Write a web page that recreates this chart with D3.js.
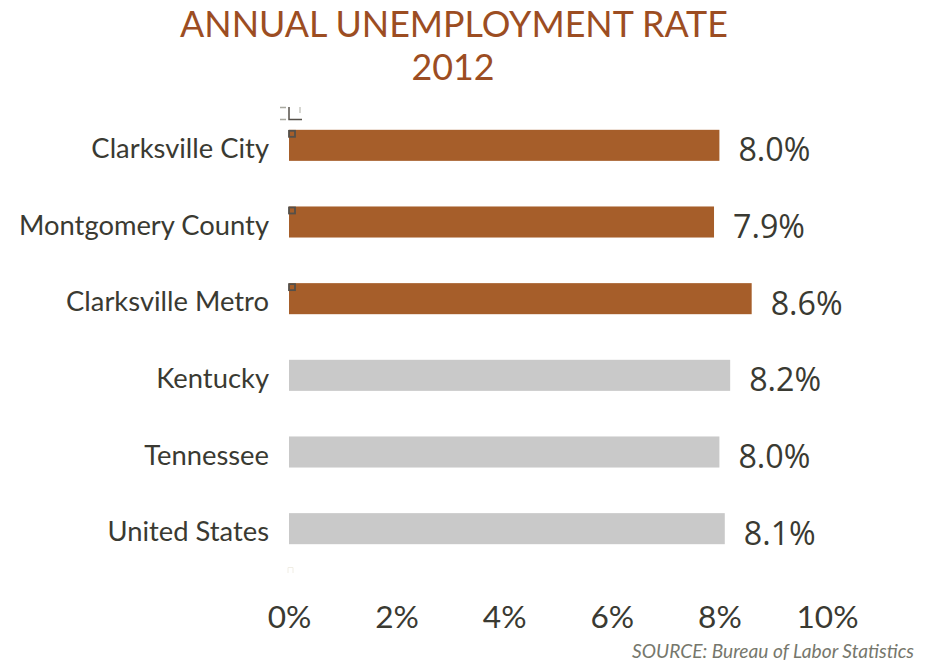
<!DOCTYPE html>
<html>
<head>
<meta charset="utf-8">
<script src="https://cdn.jsdelivr.net/npm/d3@7"></script>
<style>
  html, body { margin: 0; padding: 0; background: #fff; }
  svg { display: block; }
</style>
</head>
<body>
<svg id="chart" width="938" height="662"></svg>
<script>
// Annual unemployment rate, 2012 (percent)
const categories = ["Clarksville City", "Montgomery County", "Clarksville Metro", "Kentucky", "Tennessee", "United States"];
const rates = [8.0, 7.9, 8.6, 8.2, 8.0, 8.1];
const localArea = [true, true, true, false, false, false];
const tickValues = [0, 2, 4, 6, 8, 10];
const titleLines = ["ANNUAL UNEMPLOYMENT RATE", "2012"];
const sourceNote = "SOURCE: Bureau of Labor Statistics";

const W = 938, H = 662;
const labelFont = "Lato, 'Open Sans', sans-serif";
const valueFont = "'Open Sans', 'DejaVu Sans', sans-serif";
const inkColor = "#3a3a32";
const accent = "#A65E2A";
const neutral = "#C9C9C9";

const svg = d3.select("#chart");

const x = d3.scaleLinear().domain([0, 10]).range([289, 827]);
const y = d3.scaleBand().domain(categories).range([107, 567])
  .paddingInner(0.595).paddingOuter(0.2975);

// scale a text element's font so its rendered width equals target
function fitWidth(node, target) {
  const size = parseFloat(node.getAttribute("font-size"));
  const w = node.getComputedTextLength();
  node.setAttribute("font-size", (size * target / w).toFixed(2));
}

// title
const title = svg.append("g").attr("fill", "#9C4D22").attr("font-family", labelFont)
  .attr("text-anchor", "middle");
const t1 = title.append("text").attr("x", 454).attr("y", 37).attr("font-size", 36).text(titleLines[0]);
fitWidth(t1.node(), 548);
const t2 = title.append("text").attr("x", 453).attr("y", 80).attr("font-size", 36).text(titleLines[1]);
t2.attr("font-size", t1.attr("font-size"));

// bars
svg.append("g").selectAll("rect").data(categories).join("rect")
  .attr("x", x(0))
  .attr("y", d => y(d))
  .attr("width", (d, i) => x(rates[i]) - x(0))
  .attr("height", y.bandwidth())
  .attr("fill", (d, i) => localArea[i] ? accent : neutral);

// small selection handles on the highlighted bars
svg.append("g").selectAll("rect").data(categories.filter((d, i) => localArea[i])).join("rect")
  .attr("x", x(0))
  .attr("y", d => y(d) + 1)
  .attr("width", 6).attr("height", 6)
  .attr("fill", "none").attr("stroke", "#55504a").attr("stroke-width", 1.8);

// plot-area corner marks
const marks = svg.append("g").attr("fill", "none");
marks.append("path").attr("d", `M${x(0) - 9},107.5 H${x(0) - 3} M${x(0) - 9},119.5 H${x(0) - 3}`)
  .attr("stroke", "#a9a9a0").attr("stroke-width", 1.5);
marks.append("path").attr("d", `M${x(0)},107 V119.5 H${x(0) + 13}`)
  .attr("stroke", "#55504a").attr("stroke-width", 1.5);
marks.append("path").attr("d", `M${x(0) + 11},107 V113`)
  .attr("stroke", "#c8c8c2").attr("stroke-width", 1.5);
marks.append("path").attr("d", `M${x(0) - 1},573 V567.5 H${x(0) + 4} V573`)
  .attr("stroke", "#f0ede4").attr("stroke-width", 1);

// category labels
const cat = svg.append("g").attr("font-family", labelFont).attr("fill", inkColor)
  .attr("text-anchor", "end");
const catText = cat.selectAll("text").data(categories).join("text")
  .attr("x", 269)
  .attr("y", d => y(d) + y.bandwidth() / 2)
  .attr("dy", "0.46em")
  .attr("font-size", 26)
  .text(d => d);
const longest = catText.filter(d => d === "Montgomery County").node();
fitWidth(longest, 250);
catText.attr("font-size", longest.getAttribute("font-size"));

// value labels
const val = svg.append("g").attr("font-family", valueFont).attr("fill", inkColor);
const valText = val.selectAll("text").data(categories).join("text")
  .attr("x", (d, i) => x(rates[i]) + 19)
  .attr("y", d => y(d) + y.bandwidth() / 2)
  .attr("dy", "0.5em")
  .attr("font-size", 33)
  .text((d, i) => rates[i].toFixed(1) + "%");
fitWidth(valText.node(), 72);
valText.attr("font-size", valText.node().getAttribute("font-size"));

// x axis (labels only)
const axis = d3.axisBottom(x).tickValues(tickValues).tickSize(0).tickPadding(0)
  .tickFormat(d => d + "%");
const gx = svg.append("g").attr("transform", "translate(0,628)").call(axis);
gx.select(".domain").remove();
gx.selectAll("text")
  .attr("y", 0).attr("dy", 0)
  .attr("font-family", labelFont).attr("font-size", 34).attr("fill", inkColor);
const tenPct = gx.selectAll("text").filter(d => d === 10).node();
fitWidth(tenPct, 62);
gx.selectAll("text").attr("font-size", tenPct.getAttribute("font-size"));

// source note
const src = svg.append("text").attr("x", 914).attr("y", 658).attr("text-anchor", "end")
  .attr("font-family", labelFont).attr("font-style", "italic").attr("font-size", 19)
  .attr("fill", "#76776c").text(sourceNote);
fitWidth(src.node(), 282);
</script>
</body>
</html>
